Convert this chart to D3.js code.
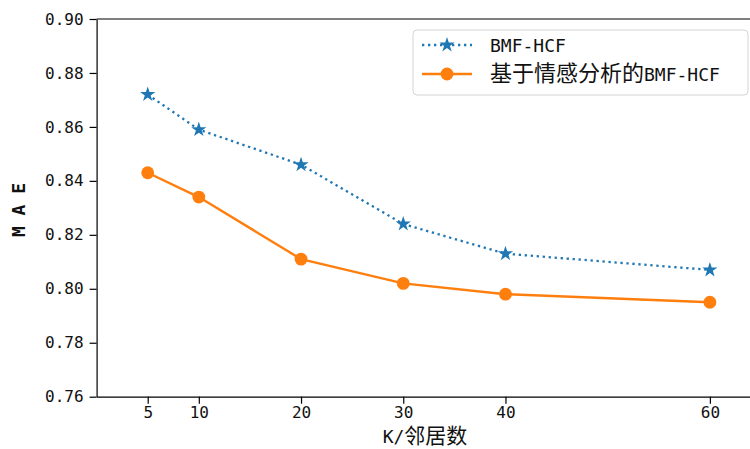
<!DOCTYPE html>
<html>
<head>
<meta charset="utf-8">
<script src="https://cdn.jsdelivr.net/npm/d3@7"></script>
<style>
  body { margin: 0; background: #fff; }
  svg { display: block; }
  .axis path, .axis line { stroke: #000; stroke-width: 1.2; }
  .axis text { font-family: "DejaVu Sans Mono", "Noto Sans CJK SC", monospace; font-size: 16px; fill: #111; }
</style>
</head>
<body>
<div id="line-chart"></div>
<script>
// K values (neighbours) and MAE per method
var kValues = [5, 10, 20, 30, 40, 60];
var bmfHcf = [0.872, 0.859, 0.846, 0.824, 0.813, 0.807];
var sentimentBmfHcf = [0.843, 0.834, 0.811, 0.802, 0.798, 0.795];

var yTicks = [0.76, 0.78, 0.80, 0.82, 0.84, 0.86, 0.88, 0.90];
var seriesNames = ["BMF-HCF", "基于情感分析的BMF-HCF"];
var xLabel = "K/邻居数";
var yLabel = "M A E";

var COLORS = { blue: "#1f77b4", orange: "#ff7f0e" };

// split text into latin / CJK runs so each gets its own font
var appendMixed = function(textEl, str, cjkSize, latinSize) {
  var runs = str.match(/[\x00-\x7f]+|[^\x00-\x7f]+/g);
  runs.forEach(function(r) {
    var latin = /^[\x00-\x7f]/.test(r);
    textEl.append("tspan")
      .attr("font-family", latin ? "DejaVu Sans Mono" : "Noto Sans CJK SC")
      .attr("font-size", latin ? latinSize : cjkSize)
      .text(r);
  });
};

var render = function() {
  var width = 750;
  var height = 449;
  var margins = { top: 19, left: 96.6, bottom: 52.3 };
  var plotRight = 761; // right spine falls outside the crop

  var svg = d3.select("#line-chart")
    .append("svg")
    .attr("width", width)
    .attr("height", height);

  var xScale = d3.scaleLinear()
    .domain([0, 65])
    .range([margins.left, plotRight]);

  var yScale = d3.scaleLinear()
    .domain([0.76, 0.90])
    .range([height - margins.bottom, margins.top]);

  var xAxis = d3.axisBottom(xScale)
    .tickValues(kValues)
    .tickSize(7)
    .tickPadding(3)
    .tickSizeOuter(0);

  var yAxis = d3.axisLeft(yScale)
    .tickValues(yTicks)
    .tickFormat(d3.format(".2f"))
    .tickSize(7)
    .tickPadding(6)
    .tickSizeOuter(0);

  svg.append("g")
    .attr("class", "x axis")
    .attr("transform", "translate(0," + yScale(0.76) + ")")
    .call(xAxis);

  svg.append("g")
    .attr("class", "y axis")
    .attr("transform", "translate(" + margins.left + ",0)")
    .call(yAxis);

  // top spine
  svg.append("line")
    .attr("x1", margins.left)
    .attr("x2", plotRight)
    .attr("y1", yScale(0.90))
    .attr("y2", yScale(0.90))
    .attr("stroke", "#000")
    .attr("stroke-width", 1.2);

  // axis titles
  var xt = svg.append("text")
    .attr("x", 425)
    .attr("y", 443)
    .attr("text-anchor", "middle")
    .attr("fill", "#111");
  appendMixed(xt, xLabel, 21, 18);

  svg.append("text")
    .attr("transform", "translate(25," + 210 + ") rotate(-90)")
    .attr("text-anchor", "middle")
    .attr("font-family", "DejaVu Sans Mono")
    .attr("font-weight", "bold")
    .attr("font-size", 18)
    .attr("fill", "#111")
    .text(yLabel);

  // lines
  var line = d3.line()
    .x(function(d, i) { return xScale(kValues[i]); })
    .y(function(d) { return yScale(d); });

  var star = d3.symbol().type(d3.symbolStar).size(72);
  var circle = d3.symbol().type(d3.symbolCircle).size(130);

  svg.append("path")
    .attr("d", line(bmfHcf))
    .attr("fill", "none")
    .attr("stroke", COLORS.blue)
    .attr("stroke-width", 2.3)
    .attr("stroke-dasharray", "2.3,3.7");

  svg.append("g")
    .selectAll("path")
    .data(bmfHcf)
    .enter()
    .append("path")
    .attr("d", star)
    .attr("transform", function(d, i) {
      return "translate(" + xScale(kValues[i]) + "," + yScale(d) + ")";
    })
    .attr("fill", COLORS.blue);

  svg.append("path")
    .attr("d", line(sentimentBmfHcf))
    .attr("fill", "none")
    .attr("stroke", COLORS.orange)
    .attr("stroke-width", 2.4);

  svg.append("g")
    .selectAll("path")
    .data(sentimentBmfHcf)
    .enter()
    .append("path")
    .attr("d", circle)
    .attr("transform", function(d, i) {
      return "translate(" + xScale(kValues[i]) + "," + yScale(d) + ")";
    })
    .attr("fill", COLORS.orange);

  // legend
  var legend = svg.append("g").attr("class", "legend");
  legend.append("rect")
    .attr("x", 413)
    .attr("y", 30)
    .attr("width", 335)
    .attr("height", 65)
    .attr("rx", 4)
    .attr("fill", "#fff")
    .attr("fill-opacity", 0.8)
    .attr("stroke", "#d4d4d4");

  var rows = [
    { name: seriesNames[0], color: COLORS.blue, dash: "2.3,3.7", sym: star, y: 45 },
    { name: seriesNames[1], color: COLORS.orange, dash: null, sym: circle, y: 74 }
  ];

  rows.forEach(function(r) {
    legend.append("line")
      .attr("x1", 422)
      .attr("x2", 472)
      .attr("y1", r.y)
      .attr("y2", r.y)
      .attr("stroke", r.color)
      .attr("stroke-width", r.dash ? 2.3 : 2.4)
      .attr("stroke-dasharray", r.dash);
    legend.append("path")
      .attr("d", r.sym)
      .attr("transform", "translate(447," + r.y + ")")
      .attr("fill", r.color);
    var t = legend.append("text")
      .attr("x", 490)
      .attr("y", r.y + 7)
      .attr("fill", "#111");
    appendMixed(t, r.name, 22, 18);
  });
};

window.onload = render;
</script>
</body>
</html>
